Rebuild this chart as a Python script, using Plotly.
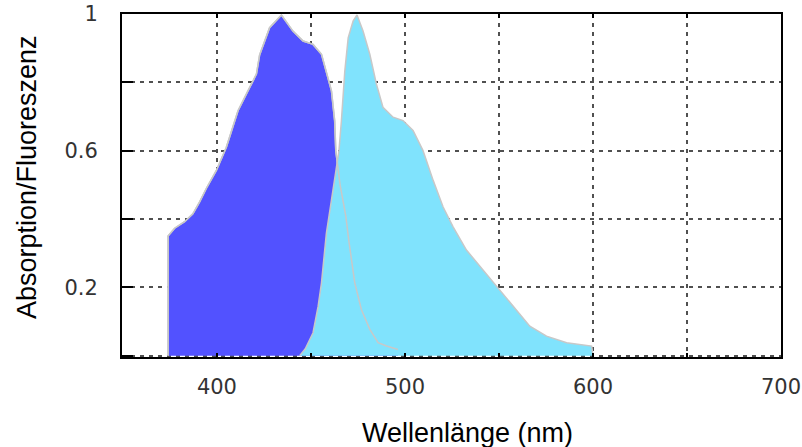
import plotly.graph_objects as go

# Absorption spectrum (blue)
abs_wl = [374, 374, 377.5, 382.8, 387.2, 390.8, 394.4, 399.7, 405, 408, 411.2, 416.5, 421,
          422.7, 428, 434.3, 440.4, 445.8, 451.1, 455.6, 458.2, 460.9, 462.6, 463.2,
          465.5, 468.5, 470.3, 473.3, 476.8, 481.3, 485.7, 490.2, 496.3]
abs_val = [0.0, 0.35, 0.373, 0.392, 0.415, 0.45, 0.49, 0.542, 0.61, 0.66, 0.717, 0.775, 0.824,
           0.88, 0.96, 0.997, 0.95, 0.921, 0.911, 0.882, 0.833, 0.775, 0.688, 0.6,
           0.5, 0.41, 0.33, 0.213, 0.135, 0.077, 0.038, 0.028, 0.018]

# Fluorescence emission spectrum (cyan)
em_wl = [444, 447, 451.1, 453.8, 455.6, 458.2, 460.9, 463, 464.9, 466.2, 468, 469.8, 472.4,
         474.5, 477.7, 481.3, 484.8, 488.3, 493.7, 499, 504.3, 509.6, 515, 520.3, 525.6,
         532.7, 541.6, 550.5, 557.5, 566.4, 575.3, 586, 599.3, 600]
em_val = [0.0, 0.02, 0.067, 0.144, 0.213, 0.358, 0.455, 0.53, 0.6, 0.688, 0.833, 0.93, 0.979,
          0.997, 0.95, 0.882, 0.795, 0.727, 0.698, 0.688, 0.659, 0.6, 0.513, 0.435, 0.377,
          0.309, 0.251, 0.193, 0.144, 0.086, 0.057, 0.038, 0.028, 0.0]

x_ticks = [400, 450, 500, 550, 600, 650, 700]
x_ticktext = ["400", "", "500", "", "600", "", "700"]
y_ticks = [0, 0.2, 0.4, 0.6, 0.8, 1.0]
y_ticktext = ["", "0.2", "", "0.6", "", "1"]

x_title = "Wellenlänge (nm)"
y_title = "Absorption/Fluoreszenz"

outline = dict(color="#C8C8C8", width=1.5)

fig = go.Figure()
fig.add_trace(go.Scatter(x=abs_wl, y=abs_val, mode="lines", fill="tozeroy",
                         fillcolor="#5252FF", line=outline,
                         hoverinfo="skip", showlegend=False))
fig.add_trace(go.Scatter(x=em_wl, y=em_val, mode="lines", fill="tozeroy",
                         fillcolor="#80E3FD", line=outline,
                         hoverinfo="skip", showlegend=False))
# absorption outline visible through the emission fill
fig.add_trace(go.Scatter(x=abs_wl, y=abs_val, mode="lines", line=outline,
                         hoverinfo="skip", showlegend=False))

fig.update_layout(
    width=802, height=447,
    margin=dict(l=122, r=21, t=14, b=90),
    paper_bgcolor="white", plot_bgcolor="white",
    xaxis=dict(range=[349.5, 700], tickvals=x_ticks, ticktext=x_ticktext,
               showgrid=True, gridcolor="#505050", gridwidth=1.5, griddash="4px,5px",
               showline=True, linecolor="black", linewidth=2, mirror="ticks",
               ticks="inside", ticklen=4, tickwidth=2, tickcolor="black",
               zeroline=False, ticklabelstandoff=10, automargin=False,
               tickfont=dict(family="DejaVu Sans", size=21, color="#333333")),
    yaxis=dict(range=[-0.004, 1.0], tickvals=y_ticks, ticktext=y_ticktext,
               showgrid=True, gridcolor="#505050", gridwidth=1.5, griddash="4px,5px",
               showline=True, linecolor="black", linewidth=2, mirror=True,
               ticks="inside", ticklen=11, tickwidth=2, tickcolor="black",
               zeroline=False, ticklabelstandoff=18, automargin=False,
               tickfont=dict(family="DejaVu Sans", size=21, color="#333333")),
    annotations=[
        dict(text=x_title, xref="paper", yref="paper", x=0.524, y=-0.2216,
             xanchor="center", yanchor="middle", showarrow=False,
             font=dict(family="Liberation Sans", size=27, color="black")),
        dict(text=y_title, xref="paper", yref="paper", x=-0.145, y=0.526,
             xanchor="center", yanchor="middle", showarrow=False, textangle=-90,
             font=dict(family="Liberation Sans", size=27, color="black")),
    ],
)

fig.write_html("out.html")
